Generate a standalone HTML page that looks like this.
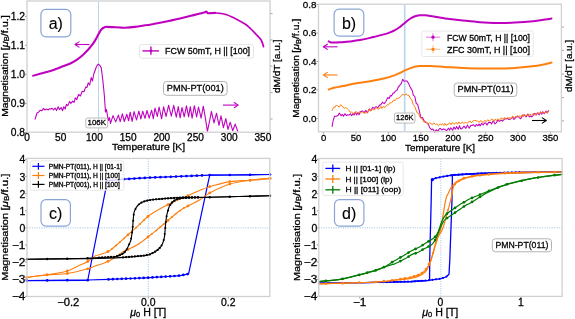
<!DOCTYPE html><html><head><meta charset="utf-8"><style>html,body{margin:0;padding:0;background:#fff}svg{display:block;will-change:transform} text{stroke:#000;stroke-width:0.28px} text.big{stroke-width:0.1px}</style></head><body><svg width="575" height="319" viewBox="0 0 575 319" font-family='"Liberation Sans", sans-serif'><rect width="575" height="319" fill="#fff"/><line x1="98.5" y1="1" x2="98.5" y2="132.2" stroke="#bcd5ec" stroke-width="1.0"/><path d="M35.1,119.1 L36.2,115.5 L37.1,113 L38.5,112.2 L40.3,110.2 L41.9,110.8 L43.5,108.4 L44.8,110 L46.5,109.1 L48.3,109.9 L49.6,108.7 L50.7,109.1 L51.9,108.2 L53.6,109.8 L55.1,108 L56.5,110.6 L58.2,106.7 L59.5,109.6 L61.2,107.5 L62.6,110.7 L63.8,106.7 L65.2,109 L66.4,104.4 L67.8,105.7 L69.6,101.5 L70.9,103.4 L72.6,101.2 L74.1,102.3 L75.3,97.9 L76.8,99.5 L78.6,94.5 L80.4,96 L82.2,91.2 L84,91.8 L85.7,87.1 L86.9,87.5 L88.2,82.8 L89.7,85 L91.2,77.5 L92.5,81 L93.8,74 L96.5,66.5 L98.2,64.1 L100,65.5 L101.3,68.1 L102.8,80 L104.3,95 L105.5,112 L106.5,109.5 L107.5,116 L108.4,120.5 L109.4,117.5 L110.5,123.4 L113,115.6 L115.7,121.9 L118.4,115.1 L120.2,121.7 L122.4,113.8 L124.3,121.5 L126.8,114.2 L128.6,120.8 L130.2,112.2 L132.1,121.4 L134.1,111.6 L136.5,119.9 L138.9,111.1 L140.9,119 L142.7,111.2 L145,118.4 L147,110.5 L149.2,118.2 L151.6,110.2 L153.3,118.7 L155,108.1 L157.3,116.4 L159.1,107 L161.6,118.8 L163.6,106.8 L166.1,116.5 L168.6,105.2 L171.3,116.2 L173.7,105.4 L176.3,117.1 L178.3,106.5 L180.1,117.9 L182,107.5 L184.2,116.8 L186.5,105.8 L188.6,116.8 L190.3,106.7 L192.1,118.1 L194.4,105.7 L196.6,117 L198.5,107 L201.1,118.2 L203.3,106.2 L205.3,117.7 L207.4,131.3 L209.7,120.4 L211.4,111.3 L214,122.9 L216.5,113.2 L219,125.4 L221,115.9 L223.4,127.6 L225.8,118.6 L228,129.4 L230.2,122.2 L232.7,130.7 L235.2,124.1 L237.7,131.3" fill="none" stroke="#bf00bf" stroke-width="1.1" stroke-linejoin="round" stroke-linecap="round"/><path d="M33.1,75.7 C34.4,75.3 38.1,74.4 41,73.6 C43.9,72.8 47.2,72 50.4,71 C53.6,70 56.7,68.8 60,67.5 C63.3,66.2 67.5,64.8 70.3,63.5 C73.1,62.2 74.9,61 77,59.6 C79.1,58.2 81.2,56.5 82.9,55 C84.6,53.5 85.6,52.3 87,50.8 C88.4,49.3 89.8,47.9 91.1,46.2 C92.4,44.5 93.8,42.6 95,40.6 C96.2,38.6 97.5,36 98.4,34.3 C99.3,32.6 99.8,31.6 100.5,30.6 C101.2,29.6 101.8,28.9 102.5,28.4 C103.2,27.8 103.8,27.6 104.5,27.3 C105.2,27.1 105.2,26.9 106.4,26.9 C107.7,26.9 109.8,27 112,27.1 C114.2,27.2 117.4,27.4 119.6,27.5 C121.8,27.6 122.4,27.8 125,27.7 C127.6,27.6 131.7,27.3 135,26.9 C138.3,26.5 142.5,25.7 145,25.3 C147.5,24.9 147.5,25.1 150,24.7 C152.5,24.3 156.7,23.5 160,22.8 C163.3,22.1 166.7,21.4 170,20.7 C173.3,20 176.7,19.3 180,18.5 C183.3,17.7 186.7,16.8 190,16 C193.3,15.2 197.6,14.2 200,13.6 C202.4,13 203.4,12.6 204.5,12.3 C205.6,12 205.8,11.4 206.3,11.6 C206.9,11.8 207.2,12.9 207.8,13.2 C208.4,13.5 208.8,13.2 210,13.2 C211.2,13.1 214.2,12.9 215,12.9" fill="none" stroke="#bf00bf" stroke-width="2.1" stroke-linejoin="round" stroke-linecap="round"/><path d="M210,13.2 C210.8,13.1 212.5,12.7 215,12.9 C217.5,13.1 221.7,13.3 225,14.2 C228.3,15.1 231.7,16.8 235,18.4 C238.3,20 242.5,22.4 245,24 C247.5,25.6 248.3,26.7 250,28.2 C251.7,29.7 253.2,31.3 255,33.2 C256.8,35.1 259.6,37.6 261,39.8 C262.4,42 263.1,45.5 263.5,46.6" fill="none" stroke="#bf00bf" stroke-width="1.7" stroke-linejoin="round" stroke-linecap="round"/><line x1="27" y1="132.2" x2="27" y2="134.2" stroke="#555" stroke-width="0.6"/><text x="27" y="140.8" font-size="10.12" text-anchor="middle" fill="#000" textLength="5.6" lengthAdjust="spacingAndGlyphs">0</text><line x1="60.7" y1="132.2" x2="60.7" y2="134.2" stroke="#555" stroke-width="0.6"/><text x="60.7" y="140.8" font-size="10.12" text-anchor="middle" fill="#000" textLength="11.2" lengthAdjust="spacingAndGlyphs">50</text><line x1="94.4" y1="132.2" x2="94.4" y2="134.2" stroke="#555" stroke-width="0.6"/><text x="94.4" y="140.8" font-size="10.12" text-anchor="middle" fill="#000" textLength="16.8" lengthAdjust="spacingAndGlyphs">100</text><line x1="128.1" y1="132.2" x2="128.1" y2="134.2" stroke="#555" stroke-width="0.6"/><text x="128.1" y="140.8" font-size="10.12" text-anchor="middle" fill="#000" textLength="16.8" lengthAdjust="spacingAndGlyphs">150</text><line x1="161.8" y1="132.2" x2="161.8" y2="134.2" stroke="#555" stroke-width="0.6"/><text x="161.8" y="140.8" font-size="10.12" text-anchor="middle" fill="#000" textLength="16.8" lengthAdjust="spacingAndGlyphs">200</text><line x1="195.5" y1="132.2" x2="195.5" y2="134.2" stroke="#555" stroke-width="0.6"/><text x="195.5" y="140.8" font-size="10.12" text-anchor="middle" fill="#000" textLength="16.8" lengthAdjust="spacingAndGlyphs">250</text><line x1="229.2" y1="132.2" x2="229.2" y2="134.2" stroke="#555" stroke-width="0.6"/><text x="229.2" y="140.8" font-size="10.12" text-anchor="middle" fill="#000" textLength="16.8" lengthAdjust="spacingAndGlyphs">300</text><line x1="262.9" y1="132.2" x2="262.9" y2="134.2" stroke="#555" stroke-width="0.6"/><text x="262.9" y="140.8" font-size="10.12" text-anchor="middle" fill="#000" textLength="16.8" lengthAdjust="spacingAndGlyphs">350</text><line x1="25" y1="132.5" x2="27" y2="132.5" stroke="#555" stroke-width="0.6"/><text x="25" y="135.8" font-size="10.35" text-anchor="end" fill="#000" textLength="14.3" lengthAdjust="spacingAndGlyphs">0.8</text><line x1="25" y1="103.5" x2="27" y2="103.5" stroke="#555" stroke-width="0.6"/><text x="25" y="106.8" font-size="10.35" text-anchor="end" fill="#000" textLength="14.3" lengthAdjust="spacingAndGlyphs">0.9</text><line x1="25" y1="74.4" x2="27" y2="74.4" stroke="#555" stroke-width="0.6"/><text x="25" y="77.7" font-size="10.35" text-anchor="end" fill="#000" textLength="14.3" lengthAdjust="spacingAndGlyphs">1.0</text><line x1="25" y1="45.4" x2="27" y2="45.4" stroke="#555" stroke-width="0.6"/><text x="25" y="48.7" font-size="10.35" text-anchor="end" fill="#000" textLength="14.3" lengthAdjust="spacingAndGlyphs">1.1</text><line x1="25" y1="16.4" x2="27" y2="16.4" stroke="#555" stroke-width="0.6"/><text x="25" y="19.7" font-size="10.35" text-anchor="end" fill="#000" textLength="14.3" lengthAdjust="spacingAndGlyphs">1.2</text><line x1="270" y1="13.6" x2="272.5" y2="13.6" stroke="#888" stroke-width="0.8"/><line x1="270" y1="39.9" x2="272.5" y2="39.9" stroke="#888" stroke-width="0.8"/><line x1="270" y1="66.1" x2="272.5" y2="66.1" stroke="#888" stroke-width="0.8"/><line x1="270" y1="92.6" x2="272.5" y2="92.6" stroke="#888" stroke-width="0.8"/><line x1="270" y1="119" x2="272.5" y2="119" stroke="#888" stroke-width="0.8"/><rect x="27" y="1" width="243" height="131.2" rx="0" fill="none" stroke="#d0d0d0" stroke-width="1.3"/><text x="148.5" y="150.1" font-size="9.6" text-anchor="middle" fill="#000" textLength="73" lengthAdjust="spacingAndGlyphs">Temperature [K]</text><text x="7.9" y="116.8" font-size="9.3" text-anchor="start" fill="#000" transform="rotate(-90 7.9 116.8)" textLength="64.0" lengthAdjust="spacingAndGlyphs">Magnetisation</text><text x="7.9" y="15.3" font-size="9.3" text-anchor="end" fill="#000" transform="rotate(-90 7.9 15.3)" textLength="35.0" lengthAdjust="spacingAndGlyphs">[<tspan font-style="italic">μ</tspan><tspan font-size="6.5" dy="1.6">B</tspan><tspan dy="-1.6">/f.u.]</tspan></text><text x="280.2" y="66.3" font-size="9.4" text-anchor="middle" fill="#000" transform="rotate(-90 280.2 66.3)" textLength="53.5" lengthAdjust="spacingAndGlyphs">dM/dT [a.u.]</text><line x1="89.5" y1="44.5" x2="75" y2="44.5" stroke="#bf00bf" stroke-width="1.1"/><path d="M79,41.9 L75,44.5 L79,47.1" fill="none" stroke="#bf00bf" stroke-width="1.1" stroke-linejoin="round" stroke-linecap="round"/><line x1="223" y1="105.1" x2="238.2" y2="105.1" stroke="#bf00bf" stroke-width="1.1"/><path d="M234.2,102.5 L238.2,105.1 L234.2,107.7" fill="none" stroke="#bf00bf" stroke-width="1.1" stroke-linejoin="round" stroke-linecap="round"/><rect x="139.5" y="44.6" width="114" height="13.6" rx="2" fill="#fff" stroke="#dedede" stroke-width="0.8"/><line x1="142.5" y1="50.9" x2="159" y2="50.9" stroke="#bf00bf" stroke-width="1.4"/><line x1="150.9" y1="46.6" x2="150.9" y2="54.8" stroke="#bf00bf" stroke-width="1.4"/><circle cx="150.9" cy="50.9" r="1.3" fill="#bf00bf"/><text x="165.1" y="53.5" font-size="8.3" text-anchor="start" fill="#000" textLength="85" lengthAdjust="spacingAndGlyphs">FCW 50mT, H || [100]</text><rect x="40.9" y="9.4" width="29.9" height="27.4" rx="5" fill="#fff" stroke="#8aa5d5" stroke-width="1.2"/><text x="55.8" y="29.2" font-size="16" text-anchor="middle" fill="#000" class="big">a)</text><rect x="85.8" y="118" width="21.9" height="9.9" rx="2" fill="#fff" stroke="#aaa" stroke-width="0.8"/><text x="96.8" y="125" font-size="7.5" text-anchor="middle" fill="#000" textLength="18.5" lengthAdjust="spacingAndGlyphs">106K</text><rect x="163.5" y="81.5" width="63.6" height="13.8" rx="3" fill="#fff" stroke="#aaa" stroke-width="0.9"/><text x="195.3" y="91" font-size="9.5" text-anchor="middle" fill="#000" textLength="57" lengthAdjust="spacingAndGlyphs">PMN-PT(001)</text><line x1="404.7" y1="4.2" x2="404.7" y2="131.8" stroke="#bcd6ee" stroke-width="1.7"/><path d="M332.1,126.4 L333.4,119.5 L334.6,116.2 L336.5,116.3 L338.2,115.2 L339.3,113.1 L341.1,115.8 L342.2,114.3 L343.5,116.2 L344.8,113.7 L346.3,115.6 L347.5,114.8 L349,115.1 L350.4,113.9 L351.6,115.7 L353,113.5 L354.1,115.1 L355.2,112.1 L356.7,115 L357.9,112.6 L359,114.7 L360.4,111.7 L362.3,111 L364.1,112.6 L365.8,110.4 L367.5,112.8 L369.3,108.9 L370.9,110.7 L372.6,107.3 L374.2,108.4 L376.1,106.5 L377.6,108 L379.5,105.1 L380.7,104.9 L382.5,102.3 L384.2,103.6 L386,101.3 L387.8,97.5 L389.2,98.5 L390.4,95.5 L391.5,95.9 L393.1,92.9 L394.1,93.1 L395.4,90.9 L396.9,90.6 L398.1,87.4 L399.5,85.6 L401.4,83.3 L402.7,79.2 L404.1,81.2 L405.3,81.1 L407.1,81 L408.7,83.8 L410.4,87.6 L412.2,90.5 L413.4,95.4 L414.8,96.4 L416.3,103.8 L417.5,103.9 L419,109.6 L420.9,117.9 L422.5,117.4 L424.3,121.3 L426.2,122.5 L428,123.4 L429.8,127.9 L431.7,129.7 L433,129 L434.7,132.1 L436.3,129.8 L438,131.4 L439.2,128.8 L440.6,128.5 L441.9,130 L443.6,128.9 L444.7,129.2 L446.6,130.8 L448.4,128.3 L449.7,130.1 L450.8,127.8 L452.7,130.3 L453.9,127 L455.4,129.1 L456.5,126.6 L458.2,129.2 L459.5,125.8 L460.7,128.9 L462.4,128.3 L464,126.1 L465.9,128.4 L467.3,125.1 L469.2,128.3 L470.6,125.5 L472,125.5 L473.3,124.7 L475.1,126.5 L476.3,124.4 L478,125.8 L479,124 L480.2,125.9 L481.7,123.3 L483.2,124.9 L484.6,123 L485.9,122.9 L486.9,125.1 L488.5,122.6 L490.4,122.3 L491.5,124 L493.2,120.7 L495,123.9 L496.4,122.7 L497.7,120.2 L499.3,121.4 L501.2,120.1 L502.5,121.2 L504.3,119.1 L505.8,118.6 L507.6,118.6 L509,119.6 L510.9,118.7 L512.8,117.3 L514,119.5 L515.9,117.4 L517.6,116 L519.5,117.9 L520.7,118.8 L522.7,115 L524.5,114.9 L526.1,117 L527.9,114.1 L529.3,116.9 L530.4,116 L531.9,116.8 L533.1,115.5 L534.8,113.3 L536.2,115 L537.3,112.9 L539.2,114.8 L540.6,111.9 L541.7,114.3 L542.8,111.7 L544.2,113.8 L546.1,111.1 L547.2,113 L548.3,110.6" fill="none" stroke="#bf00bf" stroke-width="1.05" stroke-linejoin="round" stroke-linecap="round"/><path d="M332.1,110.5 L333.6,107.3 L335.1,107.1 L336.5,104.9 L337.7,106.1 L339.5,107 L340.8,104.6 L342.2,106 L344.1,108.4 L345.5,107.7 L346.8,108.2 L348.7,110 L350.4,112.5 L351.6,111.8 L353,113.6 L354.4,112.9 L356.3,111.8 L358,113.3 L359.7,111.7 L361.5,113.1 L362.7,112 L364.1,113.2 L366,112.9 L367.6,112.4 L368.8,109.3 L370.6,111.2 L371.7,109 L372.9,109.6 L374.8,109.7 L376.8,107.5 L378,109.4 L379.6,108.5 L380.9,106.3 L382,108.5 L383.6,106.1 L384.8,107.7 L386,106 L387.5,104.7 L388.6,104.9 L389.9,102.6 L391.6,102.9 L393.4,100.3 L394.9,100.7 L396.6,98.3 L397.7,98.6 L399,97.9 L400.1,97.2 L402,94.5 L403.6,94.7 L404.9,94.9 L406.1,93.9 L407.5,95.1 L409,95.3 L410.2,98.1 L411.9,100.1 L413.2,104.6 L415.1,107.2 L416.8,112.5 L418.5,113.4 L420.2,117.6 L421.8,118.5 L422.8,120.1 L424,122.1 L425.9,121.5 L427.8,124.4 L429.5,122.7 L430.8,123.6 L432.5,124.7 L433.8,122.8 L435.5,124.5 L436.8,124 L438.5,125.7 L440,124 L441.3,124.6 L442.6,123.6 L443.8,125.4 L444.9,123.3 L446.1,125.3 L448,124.3 L449.8,122.8 L451,124.8 L452.4,122.2 L453.8,124.2 L454.9,123.8 L456.1,122.3 L457.6,124.3 L458.8,121.9 L460.4,124 L462.2,121.9 L463.8,123.4 L465.3,122.3 L467.1,123.2 L469,121.7 L470.4,121.2 L471.4,122.9 L473.2,120.7 L474.7,120.4 L476.3,120.8 L477.6,121 L479.2,122.4 L480.2,120.6 L481.9,121.5 L483.4,122.3 L484.7,120.3 L486.4,121.6 L487.8,119.7 L489.3,121.3 L491,119.5 L492.4,119.1 L494,121.3 L495.2,119 L496.3,120.6 L497.8,118.8 L499.5,120.6 L500.8,118.2 L502,118 L503.3,119.4 L504.6,117.4 L505.8,119.4 L507.5,117.6 L508.7,118.1 L510.2,117.6 L511.2,118.7 L512.7,116 L514.4,117.7 L516,116.1 L517.7,117.1 L519,115.6 L520.5,117 L521.8,115 L523,117 L524.2,114.4 L525.9,116.1 L527,114.6 L528.3,116.1 L529.9,114.2 L531.8,115.4 L533.3,113.2 L534.5,114.9 L536.2,114.8 L537.6,112.6 L539.4,113.4 L540.7,112.1 L542,113.4 L543.3,112.1 L545,113.2 L546.3,111.5 L547.7,112.7 L548.9,111" fill="none" stroke="#ff7f0e" stroke-width="1.0" stroke-linejoin="round" stroke-linecap="round"/><path d="M328.8,41.4 C329.1,41.6 330.1,42.3 330.8,42.5 C331.5,42.7 331.5,42.6 333,42.6 C334.5,42.6 337.2,42.5 340,42.3 C342.8,42.1 346.7,41.9 350,41.5 C353.3,41.1 356.7,40.7 360,40.1 C363.3,39.5 367.2,38.6 370,37.9 C372.8,37.2 374.5,36.7 377,36.1 C379.5,35.5 382.8,34.7 385,34.1 C387.2,33.5 388.3,33.1 390,32.4 C391.7,31.7 393.3,31 395,30.1 C396.7,29.2 398.4,28 400,26.9 C401.6,25.8 403.2,24.3 404.5,23.2 C405.8,22.1 406.8,21.1 408,20.2 C409.2,19.3 410.7,18.3 412,17.6 C413.3,16.9 414.7,16.4 416,16 C417.3,15.6 418.5,15.4 420,15.3 C421.5,15.2 423.3,15.1 425,15.2 C426.7,15.3 426.7,15.4 430,15.9 C433.3,16.4 439.9,17.7 445,18.4 C450.1,19.1 454.6,19.6 460.4,20.2 C466.2,20.8 473.4,21.7 480,22.2 C486.6,22.7 494.2,22.9 500,23 C505.8,23.1 509.5,22.9 515,22.6 C520.5,22.3 528.2,21.7 533.2,21.2 C538.2,20.7 542,20.1 545,19.6 C548,19.2 550.4,18.7 551.5,18.5" fill="none" stroke="#bf00bf" stroke-width="2.0" stroke-linejoin="round" stroke-linecap="round"/><path d="M328.8,89.5 C329.2,89.3 330,88.9 331,88.6 C332,88.3 333,88 335,87.6 C337,87.2 339.7,86.8 343,86.1 C346.3,85.4 350.5,84.4 355,83.6 C359.5,82.8 365,82.2 370,81.3 C375,80.4 380.8,79.2 385,78.2 C389.2,77.2 391.8,76.3 395,75.1 C398.2,73.8 401.7,72 404.5,70.7 C407.3,69.5 409.4,68.4 412,67.6 C414.6,66.8 417,66.4 420,66.1 C423,65.8 425.8,65.9 430,66 C434.2,66.1 440,66.6 445,66.9 C450,67.2 454.2,67.5 460,67.8 C465.8,68 473.3,68.3 480,68.4 C486.7,68.5 494.2,68.7 500,68.6 C505.8,68.5 510,68.3 515,68 C520,67.7 525,67.2 530,66.6 C535,66 541.4,64.9 545,64.2 C548.6,63.5 550.4,62.9 551.5,62.6" fill="none" stroke="#ff7f0e" stroke-width="2.0" stroke-linejoin="round" stroke-linecap="round"/><line x1="323.6" y1="131.8" x2="323.6" y2="133.8" stroke="#555" stroke-width="0.6"/><text x="323.6" y="140.9" font-size="9.6" text-anchor="middle" fill="#000" textLength="5.3" lengthAdjust="spacingAndGlyphs">0</text><line x1="356" y1="131.8" x2="356" y2="133.8" stroke="#555" stroke-width="0.6"/><text x="356" y="140.9" font-size="9.6" text-anchor="middle" fill="#000" textLength="10.6" lengthAdjust="spacingAndGlyphs">50</text><line x1="388.4" y1="131.8" x2="388.4" y2="133.8" stroke="#555" stroke-width="0.6"/><text x="388.4" y="140.9" font-size="9.6" text-anchor="middle" fill="#000" textLength="15.9" lengthAdjust="spacingAndGlyphs">100</text><line x1="420.8" y1="131.8" x2="420.8" y2="133.8" stroke="#555" stroke-width="0.6"/><text x="420.8" y="140.9" font-size="9.6" text-anchor="middle" fill="#000" textLength="15.9" lengthAdjust="spacingAndGlyphs">150</text><line x1="453.2" y1="131.8" x2="453.2" y2="133.8" stroke="#555" stroke-width="0.6"/><text x="453.2" y="140.9" font-size="9.6" text-anchor="middle" fill="#000" textLength="15.9" lengthAdjust="spacingAndGlyphs">200</text><line x1="485.6" y1="131.8" x2="485.6" y2="133.8" stroke="#555" stroke-width="0.6"/><text x="485.6" y="140.9" font-size="9.6" text-anchor="middle" fill="#000" textLength="15.9" lengthAdjust="spacingAndGlyphs">250</text><line x1="518" y1="131.8" x2="518" y2="133.8" stroke="#555" stroke-width="0.6"/><text x="518" y="140.9" font-size="9.6" text-anchor="middle" fill="#000" textLength="15.9" lengthAdjust="spacingAndGlyphs">300</text><line x1="550.4" y1="131.8" x2="550.4" y2="133.8" stroke="#555" stroke-width="0.6"/><text x="550.4" y="140.9" font-size="9.6" text-anchor="middle" fill="#000" textLength="15.9" lengthAdjust="spacingAndGlyphs">350</text><line x1="316.5" y1="118.5" x2="318.5" y2="118.5" stroke="#555" stroke-width="0.6"/><text x="316.5" y="121.8" font-size="9.89" text-anchor="end" fill="#000" textLength="13.7" lengthAdjust="spacingAndGlyphs">0.0</text><line x1="316.5" y1="90" x2="318.5" y2="90" stroke="#555" stroke-width="0.6"/><text x="316.5" y="93.3" font-size="9.89" text-anchor="end" fill="#000" textLength="13.7" lengthAdjust="spacingAndGlyphs">0.2</text><line x1="316.5" y1="61.5" x2="318.5" y2="61.5" stroke="#555" stroke-width="0.6"/><text x="316.5" y="64.8" font-size="9.89" text-anchor="end" fill="#000" textLength="13.7" lengthAdjust="spacingAndGlyphs">0.4</text><line x1="316.5" y1="33" x2="318.5" y2="33" stroke="#555" stroke-width="0.6"/><text x="316.5" y="36.3" font-size="9.89" text-anchor="end" fill="#000" textLength="13.7" lengthAdjust="spacingAndGlyphs">0.6</text><line x1="316.5" y1="4.5" x2="318.5" y2="4.5" stroke="#555" stroke-width="0.6"/><text x="316.5" y="7.8" font-size="9.89" text-anchor="end" fill="#000" textLength="13.7" lengthAdjust="spacingAndGlyphs">0.8</text><line x1="561.4" y1="27" x2="563.9" y2="27" stroke="#888" stroke-width="0.8"/><line x1="561.4" y1="50.4" x2="563.9" y2="50.4" stroke="#888" stroke-width="0.8"/><line x1="561.4" y1="74" x2="563.9" y2="74" stroke="#888" stroke-width="0.8"/><line x1="561.4" y1="97.6" x2="563.9" y2="97.6" stroke="#888" stroke-width="0.8"/><line x1="561.4" y1="120.8" x2="563.9" y2="120.8" stroke="#888" stroke-width="0.8"/><rect x="318.5" y="4.2" width="242.9" height="127.6" rx="0" fill="none" stroke="#d0d0d0" stroke-width="1.3"/><text x="440" y="150.8" font-size="9.3" text-anchor="middle" fill="#000" textLength="70" lengthAdjust="spacingAndGlyphs">Temperature [K]</text><text x="299.4" y="117.7" font-size="9.1" text-anchor="start" fill="#000" transform="rotate(-90 299.4 117.7)" textLength="62.6" lengthAdjust="spacingAndGlyphs">Magnetisation</text><text x="299.4" y="18.6" font-size="9.1" text-anchor="end" fill="#000" transform="rotate(-90 299.4 18.6)" textLength="34.1" lengthAdjust="spacingAndGlyphs">[<tspan font-style="italic">μ</tspan><tspan font-size="6.4" dy="1.6">B</tspan><tspan dy="-1.6">/f.u.]</tspan></text><text x="571.8" y="66" font-size="9.2" text-anchor="middle" fill="#000" transform="rotate(-90 571.8 66)" textLength="52" lengthAdjust="spacingAndGlyphs">dM/dT [a.u.]</text><line x1="337.5" y1="46.8" x2="323.4" y2="46.8" stroke="#bf00bf" stroke-width="1.1"/><path d="M327.4,44.2 L323.4,46.8 L327.4,49.4" fill="none" stroke="#bf00bf" stroke-width="1.1" stroke-linejoin="round" stroke-linecap="round"/><line x1="337.5" y1="75" x2="323.4" y2="75" stroke="#ff7f0e" stroke-width="1.1"/><path d="M327.4,72.4 L323.4,75 L327.4,77.6" fill="none" stroke="#ff7f0e" stroke-width="1.1" stroke-linejoin="round" stroke-linecap="round"/><line x1="532" y1="120.5" x2="546.3" y2="120.5" stroke="#000" stroke-width="1.1"/><path d="M542.3,117.9 L546.3,120.5 L542.3,123.1" fill="none" stroke="#000" stroke-width="1.1" stroke-linejoin="round" stroke-linecap="round"/><rect x="421.8" y="31" width="111.4" height="25.5" rx="2" fill="#fff" stroke="#e2e2e2" stroke-width="0.8"/><line x1="426" y1="37.2" x2="440.2" y2="37.2" stroke="#bf00bf" stroke-width="1.2" stroke-opacity="0.45"/><line x1="433" y1="33.2" x2="433" y2="41.2" stroke="#bf00bf" stroke-width="1.2" stroke-opacity="0.45"/><circle cx="433" cy="37.2" r="1.6" fill="#bf00bf"/><text x="447" y="40.5" font-size="8.2" text-anchor="start" fill="#000" textLength="83" lengthAdjust="spacingAndGlyphs">FCW 50mT, H || [100]</text><line x1="426" y1="49.3" x2="440.2" y2="49.3" stroke="#ff7f0e" stroke-width="1.2" stroke-opacity="0.45"/><line x1="433" y1="45.3" x2="433" y2="53.3" stroke="#ff7f0e" stroke-width="1.2" stroke-opacity="0.45"/><circle cx="433" cy="49.3" r="1.6" fill="#ff7f0e"/><text x="447" y="52.6" font-size="8.2" text-anchor="start" fill="#000" textLength="83" lengthAdjust="spacingAndGlyphs">ZFC 30mT, H || [100]</text><rect x="334.1" y="9.2" width="29.7" height="26.9" rx="5" fill="#fff" stroke="#8aa5d5" stroke-width="1.2"/><text x="349" y="29" font-size="16" text-anchor="middle" fill="#000" class="big">b)</text><rect x="394.5" y="113" width="20.5" height="10.1" rx="2" fill="#fff" stroke="#aaa" stroke-width="0.8"/><text x="404.8" y="120" font-size="7.3" text-anchor="middle" fill="#000" textLength="17.5" lengthAdjust="spacingAndGlyphs">126K</text><rect x="454.2" y="83" width="62.6" height="13.5" rx="3" fill="#fff" stroke="#aaa" stroke-width="0.9"/><text x="485.5" y="92.3" font-size="9.5" text-anchor="middle" fill="#000" textLength="56" lengthAdjust="spacingAndGlyphs">PMN-PT(011)</text><line x1="27" y1="227.9" x2="269.8" y2="227.9" stroke="#a9cbe8" stroke-width="1.0" stroke-dasharray="1.2,1.2"/><line x1="148.3" y1="158.4" x2="148.3" y2="296.5" stroke="#a9cbe8" stroke-width="1.0" stroke-dasharray="1.2,1.2"/><path d="M270,174.5 L250,174.8 L229.8,175 L209.7,175.1 L180,176.4 L150,177.6 L124,179.2 L107.4,180.6 L87.7,280.5 L27,280.7" fill="none" stroke="#0000ff" stroke-width="1.2" stroke-linejoin="round" stroke-linecap="round"/><path d="M27,280.5 L47.2,280.3 L67.3,280.2 L87.7,280 L108.5,279.4 L130,278.5 L145.8,277.8 L167.8,276.5 L180,275.6 L188.6,273.9 L209.7,175.1 L229.8,175 L270,174.5" fill="none" stroke="#0000ff" stroke-width="1.2" stroke-linejoin="round" stroke-linecap="round"/><circle cx="27" cy="280.6" r="1.35" fill="#0000ff"/><circle cx="47.2" cy="280.4" r="1.35" fill="#0000ff"/><circle cx="67.3" cy="280.2" r="1.35" fill="#0000ff"/><circle cx="87.7" cy="280.2" r="1.35" fill="#0000ff"/><circle cx="108.5" cy="279.4" r="1.35" fill="#0000ff"/><circle cx="112.9" cy="279.2" r="1.35" fill="#0000ff"/><circle cx="117.3" cy="279" r="1.35" fill="#0000ff"/><circle cx="121.7" cy="278.8" r="1.35" fill="#0000ff"/><circle cx="126.1" cy="278.7" r="1.35" fill="#0000ff"/><circle cx="130.5" cy="278.5" r="1.35" fill="#0000ff"/><circle cx="134.9" cy="278.3" r="1.35" fill="#0000ff"/><circle cx="139.3" cy="278.1" r="1.35" fill="#0000ff"/><circle cx="143.7" cy="277.9" r="1.35" fill="#0000ff"/><circle cx="148.1" cy="277.7" r="1.35" fill="#0000ff"/><circle cx="152.5" cy="277.4" r="1.35" fill="#0000ff"/><circle cx="156.9" cy="277.1" r="1.35" fill="#0000ff"/><circle cx="161.3" cy="276.9" r="1.35" fill="#0000ff"/><circle cx="165.7" cy="276.6" r="1.35" fill="#0000ff"/><circle cx="170.1" cy="276.3" r="1.35" fill="#0000ff"/><circle cx="174.5" cy="276" r="1.35" fill="#0000ff"/><circle cx="178.9" cy="275.7" r="1.35" fill="#0000ff"/><circle cx="183.3" cy="274.9" r="1.35" fill="#0000ff"/><circle cx="187.7" cy="274.1" r="1.35" fill="#0000ff"/><circle cx="270" cy="174.5" r="1.35" fill="#0000ff"/><circle cx="250" cy="174.8" r="1.35" fill="#0000ff"/><circle cx="229.8" cy="175" r="1.35" fill="#0000ff"/><circle cx="209.7" cy="175.1" r="1.35" fill="#0000ff"/><circle cx="124" cy="179.2" r="1.35" fill="#0000ff"/><circle cx="129.2" cy="178.9" r="1.35" fill="#0000ff"/><circle cx="134.4" cy="178.6" r="1.35" fill="#0000ff"/><circle cx="139.6" cy="178.2" r="1.35" fill="#0000ff"/><circle cx="144.8" cy="177.9" r="1.35" fill="#0000ff"/><circle cx="150" cy="177.6" r="1.35" fill="#0000ff"/><circle cx="155.2" cy="177.4" r="1.35" fill="#0000ff"/><circle cx="160.4" cy="177.2" r="1.35" fill="#0000ff"/><circle cx="165.6" cy="177" r="1.35" fill="#0000ff"/><circle cx="170.8" cy="176.8" r="1.35" fill="#0000ff"/><circle cx="176" cy="176.6" r="1.35" fill="#0000ff"/><circle cx="181.2" cy="176.3" r="1.35" fill="#0000ff"/><circle cx="186.4" cy="176.1" r="1.35" fill="#0000ff"/><circle cx="191.6" cy="175.9" r="1.35" fill="#0000ff"/><circle cx="196.8" cy="175.7" r="1.35" fill="#0000ff"/><circle cx="202" cy="175.4" r="1.35" fill="#0000ff"/><path d="M270,178.4 C266.7,178.7 256.7,179.8 250,180.3 C243.3,180.8 236.5,180.5 229.8,181.6 C223.1,182.7 214.7,185.3 209.7,186.7 C204.7,188.1 203.3,188.8 200,190.2 C196.7,191.5 193.3,193.3 190,194.8 C186.7,196.3 183.3,197.7 180,199.1 C176.7,200.5 173.7,201.8 170.2,203.5 C166.7,205.2 162.9,207.2 159.2,209.3 C155.5,211.4 151.8,213.5 148.2,216.3 C144.6,219.2 140.4,223.6 137.4,226.4 C134.4,229.2 132.4,230.9 130,233 C127.6,235.1 125.5,237 123.2,239.1 C120.9,241.2 118.3,243.5 116,245.5 C113.7,247.5 111.4,249.7 109.1,251.1 C106.8,252.5 104.3,253.2 102,254 C99.7,254.8 97.4,254.8 95,256 C92.6,257.2 90.7,259.8 87.7,261.5 C84.7,263.2 80.4,264.9 77,266.5 C73.6,268.1 72.3,269.6 67.3,271 C62.3,272.4 53.9,273.8 47.2,274.8 C40.5,275.9 30.4,276.9 27,277.3" fill="none" stroke="#ff7f0e" stroke-width="1.1" stroke-linejoin="round" stroke-linecap="round"/><path d="M27,277.3 C30.4,276.9 40.5,275.4 47.2,274.8 C53.9,274.2 60.5,274.5 67.3,273.5 C74,272.5 83.1,270.1 87.7,268.8 C92.3,267.6 91.4,267.3 95,266 C98.6,264.7 104.4,263.4 109.1,261 C113.8,258.6 118.5,254.5 123.2,251.8 C127.9,249.1 133,247.5 137.4,244.8 C141.8,242.1 146.9,237.7 149.8,235.5 C152.7,233.3 152.7,233.3 155,231.4 C157.3,229.5 160.6,226.8 163.9,224 C167.2,221.2 171.7,217.1 174.9,214.5 C178.1,211.9 178.9,210.9 183.1,208.5 C187.3,206.1 195.6,202.4 200,199.8 C204.4,197.2 204.7,195.5 209.7,192.9 C214.7,190.3 223.1,186.2 229.8,184.1 C236.5,182 243.3,181.2 250,180.3 C256.7,179.4 266.7,178.7 270,178.4" fill="none" stroke="#ff7f0e" stroke-width="1.1" stroke-linejoin="round" stroke-linecap="round"/><circle cx="27" cy="277.3" r="1.4" fill="#ff7f0e"/><circle cx="47.2" cy="274.8" r="1.4" fill="#ff7f0e"/><circle cx="67.3" cy="271" r="1.4" fill="#ff7f0e"/><circle cx="87.7" cy="261.5" r="1.4" fill="#ff7f0e"/><circle cx="108" cy="251.5" r="1.4" fill="#ff7f0e"/><circle cx="128" cy="234.8" r="1.4" fill="#ff7f0e"/><circle cx="148" cy="216.5" r="1.4" fill="#ff7f0e"/><circle cx="168" cy="204.7" r="1.4" fill="#ff7f0e"/><circle cx="188" cy="195.7" r="1.4" fill="#ff7f0e"/><circle cx="209.7" cy="186.7" r="1.4" fill="#ff7f0e"/><circle cx="229.8" cy="181.6" r="1.4" fill="#ff7f0e"/><circle cx="250" cy="180.3" r="1.4" fill="#ff7f0e"/><circle cx="270" cy="178.4" r="1.4" fill="#ff7f0e"/><circle cx="27" cy="277.3" r="1.4" fill="#ff7f0e"/><circle cx="47.2" cy="274.8" r="1.4" fill="#ff7f0e"/><circle cx="67.3" cy="273.5" r="1.4" fill="#ff7f0e"/><circle cx="87.7" cy="268.8" r="1.4" fill="#ff7f0e"/><circle cx="108" cy="261.4" r="1.4" fill="#ff7f0e"/><circle cx="128" cy="249.4" r="1.4" fill="#ff7f0e"/><circle cx="148" cy="236.9" r="1.4" fill="#ff7f0e"/><circle cx="168" cy="220.5" r="1.4" fill="#ff7f0e"/><circle cx="188" cy="206" r="1.4" fill="#ff7f0e"/><circle cx="209.7" cy="192.9" r="1.4" fill="#ff7f0e"/><circle cx="229.8" cy="184.1" r="1.4" fill="#ff7f0e"/><circle cx="250" cy="180.3" r="1.4" fill="#ff7f0e"/><circle cx="270" cy="178.4" r="1.4" fill="#ff7f0e"/><circle cx="112" cy="248.7" r="0.9" fill="#ff7f0e"/><circle cx="116" cy="245.5" r="0.9" fill="#ff7f0e"/><circle cx="120" cy="241.9" r="0.9" fill="#ff7f0e"/><circle cx="124" cy="238.4" r="0.9" fill="#ff7f0e"/><circle cx="132" cy="231.2" r="0.9" fill="#ff7f0e"/><circle cx="136" cy="227.6" r="0.9" fill="#ff7f0e"/><circle cx="140" cy="224" r="0.9" fill="#ff7f0e"/><circle cx="144" cy="220.2" r="0.9" fill="#ff7f0e"/><circle cx="152" cy="233.8" r="0.9" fill="#ff7f0e"/><circle cx="156" cy="230.6" r="0.9" fill="#ff7f0e"/><circle cx="160" cy="227.2" r="0.9" fill="#ff7f0e"/><circle cx="164" cy="223.9" r="0.9" fill="#ff7f0e"/><circle cx="172" cy="217" r="0.9" fill="#ff7f0e"/><circle cx="176" cy="213.7" r="0.9" fill="#ff7f0e"/><circle cx="180" cy="210.8" r="0.9" fill="#ff7f0e"/><circle cx="184" cy="208" r="0.9" fill="#ff7f0e"/><path d="M270,195.8 C266.7,195.9 260.1,196.1 250,196.3 C239.9,196.5 220.5,197 209.7,197.2 C198.9,197.4 191.3,197.2 185,197.4 C178.7,197.6 176.9,197.8 172.1,198.1 C167.3,198.4 160.3,198.9 156.3,199.3 C152.3,199.7 150.1,200 148,200.4 C145.9,200.8 145.2,201.1 144,201.5 C142.8,201.9 141.6,202.4 140.7,203 C139.8,203.6 139,204.3 138.3,205 C137.6,205.7 137.1,206.4 136.5,207.2 C135.9,208 135.4,209 135,210 C134.6,211 134.2,211.3 133.9,213 C133.6,214.7 133.4,217.7 133.2,220 C133,222.3 132.9,224.7 132.7,227 C132.5,229.3 132.2,231.8 131.9,234 C131.6,236.2 131.3,238.3 130.9,240 C130.5,241.7 130,242.4 129.3,244 C128.6,245.6 127.7,247.8 126.8,249.3 C125.9,250.8 125.2,251.9 123.9,253 C122.6,254.1 120.5,255 119,255.6 C117.5,256.2 118.3,256.5 115.1,256.8 C111.9,257.1 104.6,257.4 100,257.6 C95.4,257.9 93.2,258.1 87.7,258.3 C82.2,258.5 74,258.7 67.3,258.8 C60.5,258.9 53.9,258.9 47.2,259 C40.5,259.1 30.4,259.2 27,259.2" fill="none" stroke="#000" stroke-width="1.15" stroke-linejoin="round" stroke-linecap="round"/><path d="M27,259.2 C37.1,259.1 71.6,258.9 87.7,258.6 C103.8,258.3 114.5,257.9 123.9,257.4 C133.3,256.9 140.1,256.1 144.4,255.6 C148.8,255.1 148.3,254.9 150,254.3 C151.7,253.7 153.2,252.8 154.6,252 C156,251.2 157.4,250.2 158.5,249.3 C159.6,248.4 160.4,247.6 161.2,246.3 C162,245 162.8,243.1 163.3,241.5 C163.9,239.9 164.2,238.5 164.5,236.6 C164.8,234.7 164.9,232.4 165.1,230 C165.3,227.6 165.5,224.5 165.8,222 C166.1,219.5 166.3,217.4 166.8,215 C167.3,212.6 168.2,209.4 168.8,207.7 C169.4,205.9 169.9,205.4 170.5,204.5 C171.1,203.6 171.6,202.8 172.5,202 C173.4,201.2 174.8,200.2 176.1,199.6 C177.3,199 178.5,198.8 180,198.5 C181.5,198.2 180.1,198.1 185,197.9 C189.9,197.7 195.5,197.5 209.7,197.2 C223.9,196.8 259.9,196 270,195.8" fill="none" stroke="#000" stroke-width="1.15" stroke-linejoin="round" stroke-linecap="round"/><circle cx="270" cy="195.8" r="1.2" fill="#000"/><circle cx="250" cy="196.3" r="1.2" fill="#000"/><circle cx="229.8" cy="196.8" r="1.2" fill="#000"/><circle cx="209.7" cy="197.3" r="1.2" fill="#000"/><circle cx="27" cy="259.2" r="1.2" fill="#000"/><circle cx="47.2" cy="259" r="1.2" fill="#000"/><circle cx="67.3" cy="258.8" r="1.2" fill="#000"/><circle cx="87.7" cy="258.3" r="1.2" fill="#000"/><circle cx="198" cy="197.3" r="1.15" fill="#000"/><circle cx="195" cy="197.3" r="1.15" fill="#000"/><circle cx="192" cy="197.3" r="1.15" fill="#000"/><circle cx="189" cy="197.4" r="1.15" fill="#000"/><circle cx="186" cy="197.4" r="1.15" fill="#000"/><circle cx="183" cy="197.5" r="1.15" fill="#000"/><circle cx="180" cy="197.7" r="1.15" fill="#000"/><circle cx="177" cy="197.8" r="1.15" fill="#000"/><circle cx="174" cy="198" r="1.15" fill="#000"/><circle cx="171" cy="198.2" r="1.15" fill="#000"/><circle cx="168" cy="198.4" r="1.15" fill="#000"/><circle cx="165.1" cy="198.6" r="1.15" fill="#000"/><circle cx="162.1" cy="198.9" r="1.15" fill="#000"/><circle cx="159.1" cy="199.1" r="1.15" fill="#000"/><circle cx="156.1" cy="199.3" r="1.15" fill="#000"/><circle cx="153.1" cy="199.7" r="1.15" fill="#000"/><circle cx="150.1" cy="200.1" r="1.15" fill="#000"/><circle cx="147.2" cy="200.6" r="1.15" fill="#000"/><circle cx="144.3" cy="201.4" r="1.15" fill="#000"/><circle cx="141.5" cy="202.6" r="1.15" fill="#000"/><circle cx="124.7" cy="252" r="1.15" fill="#000"/><circle cx="122.4" cy="253.8" r="1.15" fill="#000"/><circle cx="119.8" cy="255.2" r="1.15" fill="#000"/><circle cx="117" cy="256.2" r="1.15" fill="#000"/><circle cx="114" cy="256.9" r="1.15" fill="#000"/><circle cx="111" cy="257" r="1.15" fill="#000"/><circle cx="108.1" cy="257.2" r="1.15" fill="#000"/><circle cx="105.1" cy="257.3" r="1.15" fill="#000"/><circle cx="102.1" cy="257.5" r="1.15" fill="#000"/><circle cx="99.1" cy="257.7" r="1.15" fill="#000"/><circle cx="139.1" cy="204.3" r="1.0" fill="#000"/><circle cx="135.5" cy="209.1" r="1.0" fill="#000"/><circle cx="133.7" cy="214.7" r="1.0" fill="#000"/><circle cx="133.2" cy="220.7" r="1.0" fill="#000"/><circle cx="132.7" cy="226.7" r="1.0" fill="#000"/><circle cx="132.1" cy="232.6" r="1.0" fill="#000"/><circle cx="131.1" cy="238.6" r="1.0" fill="#000"/><circle cx="129.2" cy="244.2" r="1.0" fill="#000"/><circle cx="126.6" cy="249.6" r="1.0" fill="#000"/><circle cx="123" cy="257.4" r="1.15" fill="#000"/><circle cx="126" cy="257.2" r="1.15" fill="#000"/><circle cx="129" cy="257" r="1.15" fill="#000"/><circle cx="131.9" cy="256.7" r="1.15" fill="#000"/><circle cx="134.9" cy="256.4" r="1.15" fill="#000"/><circle cx="137.9" cy="256.2" r="1.15" fill="#000"/><circle cx="140.9" cy="255.9" r="1.15" fill="#000"/><circle cx="143.9" cy="255.6" r="1.15" fill="#000"/><circle cx="146.8" cy="255" r="1.15" fill="#000"/><circle cx="149.8" cy="254.4" r="1.15" fill="#000"/><circle cx="152.5" cy="253.1" r="1.15" fill="#000"/><circle cx="155.1" cy="251.7" r="1.15" fill="#000"/><circle cx="157.6" cy="249.9" r="1.15" fill="#000"/><circle cx="159.7" cy="247.9" r="1.15" fill="#000"/><circle cx="170.3" cy="204.8" r="1.15" fill="#000"/><circle cx="172.1" cy="202.5" r="1.15" fill="#000"/><circle cx="174.5" cy="200.7" r="1.15" fill="#000"/><circle cx="177.2" cy="199.3" r="1.15" fill="#000"/><circle cx="180" cy="198.5" r="1.15" fill="#000"/><circle cx="183" cy="198.1" r="1.15" fill="#000"/><circle cx="186" cy="197.9" r="1.15" fill="#000"/><circle cx="189" cy="197.8" r="1.15" fill="#000"/><circle cx="192" cy="197.7" r="1.15" fill="#000"/><circle cx="195" cy="197.6" r="1.15" fill="#000"/><circle cx="198" cy="197.5" r="1.15" fill="#000"/><circle cx="161.5" cy="245.5" r="1.0" fill="#000"/><circle cx="163.7" cy="240" r="1.0" fill="#000"/><circle cx="164.7" cy="234.1" r="1.0" fill="#000"/><circle cx="165.3" cy="228.1" r="1.0" fill="#000"/><circle cx="165.8" cy="222.1" r="1.0" fill="#000"/><circle cx="166.6" cy="216.2" r="1.0" fill="#000"/><circle cx="168.1" cy="210.4" r="1.0" fill="#000"/><line x1="68.3" y1="296.5" x2="68.3" y2="298.5" stroke="#555" stroke-width="0.6"/><text x="68.3" y="305.9" font-size="10.46" text-anchor="middle" fill="#000" textLength="22.1" lengthAdjust="spacingAndGlyphs">−0.2</text><line x1="148.3" y1="296.5" x2="148.3" y2="298.5" stroke="#555" stroke-width="0.6"/><text x="148.3" y="305.9" font-size="10.46" text-anchor="middle" fill="#000" textLength="14.5" lengthAdjust="spacingAndGlyphs">0.0</text><line x1="228.3" y1="296.5" x2="228.3" y2="298.5" stroke="#555" stroke-width="0.6"/><text x="228.3" y="305.9" font-size="10.46" text-anchor="middle" fill="#000" textLength="14.5" lengthAdjust="spacingAndGlyphs">0.2</text><line x1="25" y1="296.4" x2="27" y2="296.4" stroke="#555" stroke-width="0.6"/><text x="25.3" y="300.4" font-size="10.46" text-anchor="end" fill="#000" textLength="13.4" lengthAdjust="spacingAndGlyphs">−4</text><line x1="25" y1="279.3" x2="27" y2="279.3" stroke="#555" stroke-width="0.6"/><text x="25.3" y="283.3" font-size="10.46" text-anchor="end" fill="#000" textLength="13.4" lengthAdjust="spacingAndGlyphs">−3</text><line x1="25" y1="262.1" x2="27" y2="262.1" stroke="#555" stroke-width="0.6"/><text x="25.3" y="266.1" font-size="10.46" text-anchor="end" fill="#000" textLength="13.4" lengthAdjust="spacingAndGlyphs">−2</text><line x1="25" y1="245" x2="27" y2="245" stroke="#555" stroke-width="0.6"/><text x="25.3" y="249" font-size="10.46" text-anchor="end" fill="#000" textLength="13.4" lengthAdjust="spacingAndGlyphs">−1</text><line x1="25" y1="227.9" x2="27" y2="227.9" stroke="#555" stroke-width="0.6"/><text x="25.3" y="231.9" font-size="10.46" text-anchor="end" fill="#000" textLength="5.8" lengthAdjust="spacingAndGlyphs">0</text><line x1="25" y1="210.8" x2="27" y2="210.8" stroke="#555" stroke-width="0.6"/><text x="25.3" y="214.8" font-size="10.46" text-anchor="end" fill="#000" textLength="5.8" lengthAdjust="spacingAndGlyphs">1</text><line x1="25" y1="193.7" x2="27" y2="193.7" stroke="#555" stroke-width="0.6"/><text x="25.3" y="197.7" font-size="10.46" text-anchor="end" fill="#000" textLength="5.8" lengthAdjust="spacingAndGlyphs">2</text><line x1="25" y1="176.5" x2="27" y2="176.5" stroke="#555" stroke-width="0.6"/><text x="25.3" y="180.5" font-size="10.46" text-anchor="end" fill="#000" textLength="5.8" lengthAdjust="spacingAndGlyphs">3</text><line x1="25" y1="159.4" x2="27" y2="159.4" stroke="#555" stroke-width="0.6"/><text x="25.3" y="163.4" font-size="10.46" text-anchor="end" fill="#000" textLength="5.8" lengthAdjust="spacingAndGlyphs">4</text><rect x="27" y="158.4" width="242.8" height="138.1" rx="0" fill="none" stroke="#d0d0d0" stroke-width="1.3"/><text x="148.3" y="315.5" font-size="10" text-anchor="middle" fill="#000" textLength="36" lengthAdjust="spacingAndGlyphs"><tspan font-style="italic">μ</tspan><tspan font-size="7" dy="1.5">0</tspan><tspan dy="-1.5"> H [T]</tspan></text><text x="7.9" y="280.8" font-size="9.8" text-anchor="start" fill="#000" transform="rotate(-90 7.9 280.8)" textLength="67.8" lengthAdjust="spacingAndGlyphs">Magnetisation</text><text x="7.9" y="173.5" font-size="9.8" text-anchor="end" fill="#000" transform="rotate(-90 7.9 173.5)" textLength="36.9" lengthAdjust="spacingAndGlyphs">[<tspan font-style="italic">μ</tspan><tspan font-size="6.9" dy="1.6">B</tspan><tspan dy="-1.6">/f.u.]</tspan></text><rect x="30.2" y="160.9" width="93.6" height="29.4" rx="2" fill="#fff" stroke="#e2e2e2" stroke-width="0.8" fill-opacity="0.8"/><line x1="32.3" y1="166.3" x2="44.5" y2="166.3" stroke="#0000ff" stroke-width="1.2"/><line x1="38.4" y1="162.9" x2="38.4" y2="169.7" stroke="#0000ff" stroke-width="1.2"/><text x="48.8" y="168.6" font-size="6.3" text-anchor="start" fill="#000" textLength="73" lengthAdjust="spacingAndGlyphs">PMN-PT(011), H || [01-1]</text><line x1="32.3" y1="175.5" x2="44.5" y2="175.5" stroke="#ff7f0e" stroke-width="1.2"/><line x1="38.4" y1="172.1" x2="38.4" y2="178.9" stroke="#ff7f0e" stroke-width="1.2"/><text x="48.8" y="177.8" font-size="6.3" text-anchor="start" fill="#000" textLength="71" lengthAdjust="spacingAndGlyphs">PMN-PT(011), H || [100]</text><line x1="32.3" y1="184.4" x2="44.5" y2="184.4" stroke="#000" stroke-width="1.2"/><line x1="38.4" y1="181" x2="38.4" y2="187.8" stroke="#000" stroke-width="1.2"/><text x="48.8" y="186.7" font-size="6.3" text-anchor="start" fill="#000" textLength="71" lengthAdjust="spacingAndGlyphs">PMN-PT(001), H || [100]</text><rect x="41" y="199.7" width="29.4" height="26.4" rx="5" fill="#fff" stroke="#8aa5d5" stroke-width="1.2"/><text x="55.7" y="219.2" font-size="16" text-anchor="middle" fill="#000" class="big">c)</text><line x1="318.8" y1="227.8" x2="562.1" y2="227.8" stroke="#a9cbe8" stroke-width="1.0" stroke-dasharray="1.2,1.2"/><line x1="440.8" y1="158.5" x2="440.8" y2="296.4" stroke="#a9cbe8" stroke-width="1.0" stroke-dasharray="1.2,1.2"/><path d="M562,171.9 L521.7,172.1 L479,173.5 L452.7,175 L441.4,176.9 L435,178.4 L431.6,179.8 L431.2,200 L429.7,260 L429.6,280.3 L412.1,281.5 L365,282.6 L319,283.2" fill="none" stroke="#0000ff" stroke-width="1.3" stroke-linejoin="round" stroke-linecap="round"/><path d="M319,283.2 L365,282.6 L412.1,281.5 L428.6,280.3 L440.7,278.7 L446,277 L449,274.2 L449.8,260 L452,200 L452.4,175 L479,173.5 L562,171.9" fill="none" stroke="#0000ff" stroke-width="1.3" stroke-linejoin="round" stroke-linecap="round"/><circle cx="380" cy="282.2" r="1.1" fill="#0000ff"/><circle cx="383.5" cy="282.2" r="1.1" fill="#0000ff"/><circle cx="387" cy="282.1" r="1.1" fill="#0000ff"/><circle cx="390.5" cy="282" r="1.1" fill="#0000ff"/><circle cx="394" cy="281.9" r="1.1" fill="#0000ff"/><circle cx="397.5" cy="281.8" r="1.1" fill="#0000ff"/><circle cx="401" cy="281.8" r="1.1" fill="#0000ff"/><circle cx="404.5" cy="281.7" r="1.1" fill="#0000ff"/><circle cx="408" cy="281.6" r="1.1" fill="#0000ff"/><circle cx="411.5" cy="281.5" r="1.1" fill="#0000ff"/><circle cx="415" cy="281.3" r="1.1" fill="#0000ff"/><circle cx="418.5" cy="281" r="1.1" fill="#0000ff"/><circle cx="422" cy="280.8" r="1.1" fill="#0000ff"/><circle cx="425.5" cy="280.5" r="1.1" fill="#0000ff"/><circle cx="429" cy="280.2" r="1.1" fill="#0000ff"/><circle cx="432.5" cy="279.8" r="1.1" fill="#0000ff"/><circle cx="436" cy="279.3" r="1.1" fill="#0000ff"/><circle cx="439.5" cy="278.9" r="1.1" fill="#0000ff"/><circle cx="443" cy="278" r="1.1" fill="#0000ff"/><circle cx="446.5" cy="276.5" r="1.1" fill="#0000ff"/><circle cx="432" cy="179.6" r="1.1" fill="#0000ff"/><circle cx="435.8" cy="178.2" r="1.1" fill="#0000ff"/><circle cx="439.6" cy="177.3" r="1.1" fill="#0000ff"/><circle cx="443.4" cy="176.6" r="1.1" fill="#0000ff"/><circle cx="447.2" cy="175.9" r="1.1" fill="#0000ff"/><circle cx="451" cy="175.3" r="1.1" fill="#0000ff"/><circle cx="454.8" cy="174.9" r="1.1" fill="#0000ff"/><circle cx="458.6" cy="174.7" r="1.1" fill="#0000ff"/><circle cx="462.4" cy="174.4" r="1.1" fill="#0000ff"/><circle cx="466.2" cy="174.2" r="1.1" fill="#0000ff"/><circle cx="470" cy="174" r="1.1" fill="#0000ff"/><circle cx="473.8" cy="173.8" r="1.1" fill="#0000ff"/><circle cx="477.6" cy="173.6" r="1.1" fill="#0000ff"/><circle cx="481.4" cy="173.4" r="1.1" fill="#0000ff"/><circle cx="485.2" cy="173.3" r="1.1" fill="#0000ff"/><circle cx="489" cy="173.2" r="1.1" fill="#0000ff"/><circle cx="492.8" cy="173" r="1.1" fill="#0000ff"/><circle cx="496.6" cy="172.9" r="1.1" fill="#0000ff"/><circle cx="500.4" cy="172.8" r="1.1" fill="#0000ff"/><circle cx="504.2" cy="172.7" r="1.1" fill="#0000ff"/><circle cx="508" cy="172.5" r="1.1" fill="#0000ff"/><circle cx="511.8" cy="172.4" r="1.1" fill="#0000ff"/><circle cx="515.6" cy="172.3" r="1.1" fill="#0000ff"/><circle cx="519.4" cy="172.2" r="1.1" fill="#0000ff"/><circle cx="432.3" cy="179.7" r="1.6" fill="#0000ff"/><path d="M319,283.8 C322.8,283.7 331.9,283.5 341.5,283.2 C351.1,282.9 367.9,282.5 376.8,282 C385.7,281.5 389.6,280.7 395,280 C400.4,279.3 405.3,278.6 409.1,277.8 C412.9,277 415.2,276.3 417.6,275.4 C420,274.5 421.6,273.6 423.2,272.3 C424.8,271 426.3,269.2 427.5,267.4 C428.7,265.6 429.4,263.9 430.3,261.5 C431.2,259.1 432.2,255.8 433.1,253 C434,250.2 434.6,247.8 435.5,245 C436.4,242.2 437.3,239.4 438.2,236.5 C439.1,233.6 439.8,233.6 441,227.5 C442.2,221.4 444.4,205.8 445.7,200 C446.9,194.2 447.6,195.2 448.5,193 C449.4,190.8 450,188.9 451.4,187 C452.8,185.1 454.9,182.8 457,181.3 C459.1,179.8 461.1,179.1 463.9,178.2 C466.7,177.3 468.6,176.6 473.9,175.8 C479.2,175 486.4,174.2 495.8,173.6 C505.2,173 519,172.5 530,172.2 C541,171.9 556.7,172 562,172" fill="none" stroke="#ff7f0e" stroke-width="1.2" stroke-linejoin="round" stroke-linecap="round"/><path d="M319,283.8 C328.6,283.5 364.1,282.6 376.8,282 C389.5,281.4 389.6,280.8 395,280.2 C400.4,279.6 405.3,279.2 409.1,278.6 C412.9,278 414.9,277.7 417.6,276.6 C420.3,275.5 423.5,273.7 425.4,271.8 C427.3,269.9 427.8,267.8 428.9,265.5 C429.9,263.2 430.9,260.6 431.7,258 C432.5,255.4 432.9,253.2 433.8,250 C434.7,246.8 435.5,242.2 437,238.5 C438.5,234.8 440.7,234.2 443,227.8 C445.3,221.4 449.1,206 450.7,200 C452.2,194 451.8,194.4 452.3,192 C452.8,189.6 453,187.3 453.9,185.6 C454.8,183.9 455.8,183.2 457.6,182 C459.5,180.8 461.3,179.4 465,178.3 C468.7,177.2 473.3,176.3 480,175.5 C486.7,174.7 491.3,174 505,173.4 C518.7,172.8 552.5,172.2 562,172" fill="none" stroke="#ff7f0e" stroke-width="1.2" stroke-linejoin="round" stroke-linecap="round"/><circle cx="326" cy="283.6" r="1.35" fill="#ff7f0e"/><circle cx="342.7" cy="283.2" r="1.35" fill="#ff7f0e"/><circle cx="359.2" cy="282.6" r="1.35" fill="#ff7f0e"/><circle cx="375.6" cy="282" r="1.35" fill="#ff7f0e"/><circle cx="383.9" cy="281.2" r="1.35" fill="#ff7f0e"/><circle cx="392.1" cy="280.3" r="1.35" fill="#ff7f0e"/><circle cx="400.4" cy="279.2" r="1.35" fill="#ff7f0e"/><circle cx="405" cy="278.4" r="1.35" fill="#ff7f0e"/><circle cx="410" cy="277.5" r="1.35" fill="#ff7f0e"/><circle cx="414" cy="276.4" r="1.35" fill="#ff7f0e"/><circle cx="418" cy="275.2" r="1.35" fill="#ff7f0e"/><circle cx="422" cy="273" r="1.35" fill="#ff7f0e"/><circle cx="426" cy="269.1" r="1.35" fill="#ff7f0e"/><circle cx="429" cy="264.2" r="1.35" fill="#ff7f0e"/><circle cx="463.9" cy="178.2" r="1.35" fill="#ff7f0e"/><circle cx="472" cy="176.3" r="1.35" fill="#ff7f0e"/><circle cx="480" cy="175.2" r="1.35" fill="#ff7f0e"/><circle cx="489" cy="174.3" r="1.35" fill="#ff7f0e"/><circle cx="505.2" cy="173.2" r="1.35" fill="#ff7f0e"/><circle cx="521.7" cy="172.5" r="1.35" fill="#ff7f0e"/><circle cx="538.1" cy="172.1" r="1.35" fill="#ff7f0e"/><circle cx="554.6" cy="172" r="1.35" fill="#ff7f0e"/><circle cx="431" cy="259.9" r="0.9" fill="#ff7f0e"/><circle cx="433" cy="253" r="0.9" fill="#ff7f0e"/><circle cx="436" cy="242.1" r="0.9" fill="#ff7f0e"/><circle cx="448" cy="209.7" r="0.9" fill="#ff7f0e"/><circle cx="452" cy="193.5" r="0.9" fill="#ff7f0e"/><circle cx="455" cy="184.5" r="0.9" fill="#ff7f0e"/><circle cx="459" cy="181.3" r="0.9" fill="#ff7f0e"/><path d="M319,281.5 C322.8,281.1 334.8,280.2 341.5,279.1 C348.2,278 353.5,276.3 359.2,274.9 C364.9,273.4 371.5,271.7 375.6,270.4 C379.7,269.1 381.1,268.6 383.9,267.2 C386.6,265.8 390.2,263.3 392.1,262.2 C394,261.1 392.9,261.7 395,260.5 C397.1,259.3 402.1,256.5 405,254.8 C407.9,253.1 410.1,251.6 412.1,250.5 C414.1,249.4 415.4,249.1 417,248.3 C418.6,247.5 420.1,246.7 422,245.5 C423.9,244.3 426.9,242.4 428.6,241.3 C430.3,240.2 430.8,240 432,239.2 C433.2,238.4 434.5,237.7 435.6,236.3 C436.7,234.9 437.4,233.6 438.5,231 C439.6,228.4 440.9,223.2 442.2,220.5 C443.4,217.8 444.7,216 446,214.5 C447.3,213 448.1,212.8 449.9,211.5 C451.7,210.2 454.5,208.2 457,206.5 C459.5,204.8 462.9,202.8 465,201.6 C467.1,200.3 467.2,200.1 469.5,199 C471.8,197.9 475.7,196.4 479,195 C482.3,193.6 484.6,192.6 489.2,190.8 C493.8,189 500,186.3 506.8,184.3 C513.6,182.3 523.6,180.1 530,178.8 C536.4,177.5 539.7,177.1 545,176.3 C550.3,175.6 559.2,174.6 562,174.3" fill="none" stroke="#007a00" stroke-width="1.2" stroke-linejoin="round" stroke-linecap="round"/><path d="M319,281.5 C322.8,281.1 334.8,280.2 341.5,279.1 C348.2,278 353.5,276.3 359.2,274.9 C364.9,273.4 371.5,271.7 375.6,270.4 C379.7,269.1 381.1,268.2 383.9,267.2 C386.6,266.2 390.2,265.1 392.1,264.5 C394,263.9 392.9,264.8 395,263.8 C397.1,262.9 402.1,260.4 405,258.8 C407.9,257.2 410.1,255.4 412.1,254.4 C414.1,253.4 415.4,253.5 417,252.8 C418.6,252.1 420.1,251.1 422,250 C423.9,248.9 426.9,247.5 428.6,246.5 C430.3,245.5 431.1,245.5 432.3,244.2 C433.5,242.9 434.7,241.1 436,238.5 C437.3,235.9 438.8,231.2 440,228.5 C441.2,225.8 442.1,224.1 443,222.5 C443.9,220.9 444,220.4 445.5,219.1 C447,217.8 448.9,216.9 452.1,214.7 C455.4,212.5 462.1,207.6 465,205.7 C467.9,203.8 467.2,204.8 469.5,203.5 C471.8,202.2 475.7,199.6 479,197.6 C482.3,195.6 484.6,193.8 489.2,191.6 C493.8,189.4 500,186.6 506.8,184.5 C513.6,182.4 520.8,180.5 530,178.8 C539.2,177.1 556.7,175.1 562,174.3" fill="none" stroke="#007a00" stroke-width="1.2" stroke-linejoin="round" stroke-linecap="round"/><circle cx="326" cy="280.8" r="1.35" fill="#007a00"/><circle cx="342.7" cy="278.8" r="1.35" fill="#007a00"/><circle cx="359.2" cy="274.9" r="1.35" fill="#007a00"/><circle cx="367.4" cy="272.6" r="1.35" fill="#007a00"/><circle cx="375.6" cy="270.4" r="1.35" fill="#007a00"/><circle cx="383.9" cy="267.2" r="1.35" fill="#007a00"/><circle cx="392.1" cy="262.2" r="1.35" fill="#007a00"/><circle cx="400.4" cy="257.4" r="1.35" fill="#007a00"/><circle cx="408.6" cy="252.6" r="1.35" fill="#007a00"/><circle cx="415.6" cy="248.9" r="1.35" fill="#007a00"/><circle cx="422.7" cy="245.1" r="1.35" fill="#007a00"/><circle cx="428.6" cy="241.3" r="1.35" fill="#007a00"/><circle cx="435" cy="236.8" r="1.35" fill="#007a00"/><circle cx="447" cy="213.7" r="1.35" fill="#007a00"/><circle cx="455" cy="207.9" r="1.35" fill="#007a00"/><circle cx="463.9" cy="202.3" r="1.35" fill="#007a00"/><circle cx="472" cy="197.9" r="1.35" fill="#007a00"/><circle cx="480" cy="194.6" r="1.35" fill="#007a00"/><circle cx="489" cy="190.9" r="1.35" fill="#007a00"/><circle cx="498" cy="187.6" r="1.35" fill="#007a00"/><circle cx="506.8" cy="184.3" r="1.35" fill="#007a00"/><circle cx="521.7" cy="180.8" r="1.35" fill="#007a00"/><circle cx="538.1" cy="177.5" r="1.35" fill="#007a00"/><circle cx="554.6" cy="175.2" r="1.35" fill="#007a00"/><circle cx="400.4" cy="261.1" r="1.35" fill="#007a00"/><circle cx="408.6" cy="256.6" r="1.35" fill="#007a00"/><circle cx="415.6" cy="253.3" r="1.35" fill="#007a00"/><circle cx="422.7" cy="249.6" r="1.35" fill="#007a00"/><circle cx="428.6" cy="246.5" r="1.35" fill="#007a00"/><circle cx="435" cy="240" r="1.35" fill="#007a00"/><circle cx="447" cy="218.1" r="1.35" fill="#007a00"/><circle cx="455" cy="212.7" r="1.35" fill="#007a00"/><circle cx="463.9" cy="206.5" r="1.35" fill="#007a00"/><circle cx="472" cy="201.9" r="1.35" fill="#007a00"/><circle cx="480" cy="197" r="1.35" fill="#007a00"/><line x1="359.7" y1="296.4" x2="359.7" y2="298.4" stroke="#555" stroke-width="0.6"/><text x="359.7" y="305.9" font-size="10.46" text-anchor="middle" fill="#000" textLength="13.4" lengthAdjust="spacingAndGlyphs">−1</text><line x1="440.3" y1="296.4" x2="440.3" y2="298.4" stroke="#555" stroke-width="0.6"/><text x="440.3" y="305.9" font-size="10.46" text-anchor="middle" fill="#000" textLength="5.8" lengthAdjust="spacingAndGlyphs">0</text><line x1="520.9" y1="296.4" x2="520.9" y2="298.4" stroke="#555" stroke-width="0.6"/><text x="520.9" y="305.9" font-size="10.46" text-anchor="middle" fill="#000" textLength="5.8" lengthAdjust="spacingAndGlyphs">1</text><line x1="316.8" y1="296.4" x2="318.8" y2="296.4" stroke="#555" stroke-width="0.6"/><text x="317.2" y="300.4" font-size="10.46" text-anchor="end" fill="#000" textLength="13.4" lengthAdjust="spacingAndGlyphs">−4</text><line x1="316.8" y1="279.3" x2="318.8" y2="279.3" stroke="#555" stroke-width="0.6"/><text x="317.2" y="283.3" font-size="10.46" text-anchor="end" fill="#000" textLength="13.4" lengthAdjust="spacingAndGlyphs">−3</text><line x1="316.8" y1="262.1" x2="318.8" y2="262.1" stroke="#555" stroke-width="0.6"/><text x="317.2" y="266.1" font-size="10.46" text-anchor="end" fill="#000" textLength="13.4" lengthAdjust="spacingAndGlyphs">−2</text><line x1="316.8" y1="245" x2="318.8" y2="245" stroke="#555" stroke-width="0.6"/><text x="317.2" y="249" font-size="10.46" text-anchor="end" fill="#000" textLength="13.4" lengthAdjust="spacingAndGlyphs">−1</text><line x1="316.8" y1="227.9" x2="318.8" y2="227.9" stroke="#555" stroke-width="0.6"/><text x="317.2" y="231.9" font-size="10.46" text-anchor="end" fill="#000" textLength="5.8" lengthAdjust="spacingAndGlyphs">0</text><line x1="316.8" y1="210.8" x2="318.8" y2="210.8" stroke="#555" stroke-width="0.6"/><text x="317.2" y="214.8" font-size="10.46" text-anchor="end" fill="#000" textLength="5.8" lengthAdjust="spacingAndGlyphs">1</text><line x1="316.8" y1="193.7" x2="318.8" y2="193.7" stroke="#555" stroke-width="0.6"/><text x="317.2" y="197.7" font-size="10.46" text-anchor="end" fill="#000" textLength="5.8" lengthAdjust="spacingAndGlyphs">2</text><line x1="316.8" y1="176.5" x2="318.8" y2="176.5" stroke="#555" stroke-width="0.6"/><text x="317.2" y="180.5" font-size="10.46" text-anchor="end" fill="#000" textLength="5.8" lengthAdjust="spacingAndGlyphs">3</text><line x1="316.8" y1="159.4" x2="318.8" y2="159.4" stroke="#555" stroke-width="0.6"/><text x="317.2" y="163.4" font-size="10.46" text-anchor="end" fill="#000" textLength="5.8" lengthAdjust="spacingAndGlyphs">4</text><rect x="318.8" y="158.5" width="243.3" height="137.9" rx="0" fill="none" stroke="#d0d0d0" stroke-width="1.3"/><text x="440.3" y="315.5" font-size="10" text-anchor="middle" fill="#000" textLength="36" lengthAdjust="spacingAndGlyphs"><tspan font-style="italic">μ</tspan><tspan font-size="7" dy="1.5">0</tspan><tspan dy="-1.5"> H [T]</tspan></text><text x="299.8" y="281" font-size="9.8" text-anchor="start" fill="#000" transform="rotate(-90 299.8 281)" textLength="67.7" lengthAdjust="spacingAndGlyphs">Magnetisation</text><text x="299.8" y="173.8" font-size="9.8" text-anchor="end" fill="#000" transform="rotate(-90 299.8 173.8)" textLength="36.9" lengthAdjust="spacingAndGlyphs">[<tspan font-style="italic">μ</tspan><tspan font-size="6.9" dy="1.6">B</tspan><tspan dy="-1.6">/f.u.]</tspan></text><rect x="322.7" y="162.1" width="80.5" height="33.4" rx="2" fill="#fff" stroke="#e2e2e2" stroke-width="0.8" fill-opacity="0.8"/><line x1="325.4" y1="168.4" x2="340.2" y2="168.4" stroke="#0000ff" stroke-width="1.3"/><line x1="332.8" y1="164.5" x2="332.8" y2="172.3" stroke="#0000ff" stroke-width="1.3"/><text x="345.4" y="171" font-size="7.3" text-anchor="start" fill="#000" textLength="50" lengthAdjust="spacingAndGlyphs">H || [01-1] (ip)</text><line x1="325.4" y1="179" x2="340.2" y2="179" stroke="#ff7f0e" stroke-width="1.3"/><line x1="332.8" y1="175.1" x2="332.8" y2="182.9" stroke="#ff7f0e" stroke-width="1.3"/><text x="345.4" y="181.6" font-size="7.3" text-anchor="start" fill="#000" textLength="47" lengthAdjust="spacingAndGlyphs">H || [100] (ip)</text><line x1="325.4" y1="189.8" x2="340.2" y2="189.8" stroke="#007a00" stroke-width="1.3"/><line x1="332.8" y1="185.9" x2="332.8" y2="193.7" stroke="#007a00" stroke-width="1.3"/><text x="345.4" y="192.4" font-size="7.3" text-anchor="start" fill="#000" textLength="55.7" lengthAdjust="spacingAndGlyphs">H || [011] (oop)</text><rect x="334.5" y="199.7" width="29.4" height="26.4" rx="5" fill="#fff" stroke="#8aa5d5" stroke-width="1.2"/><text x="349.2" y="219.2" font-size="16" text-anchor="middle" fill="#000" class="big">d)</text><rect x="492.3" y="238.8" width="59.2" height="13" rx="3" fill="#fff" stroke="#aaa" stroke-width="0.9"/><text x="521.9" y="247.8" font-size="9.3" text-anchor="middle" fill="#000" textLength="53" lengthAdjust="spacingAndGlyphs">PMN-PT(011)</text></svg></body></html>
